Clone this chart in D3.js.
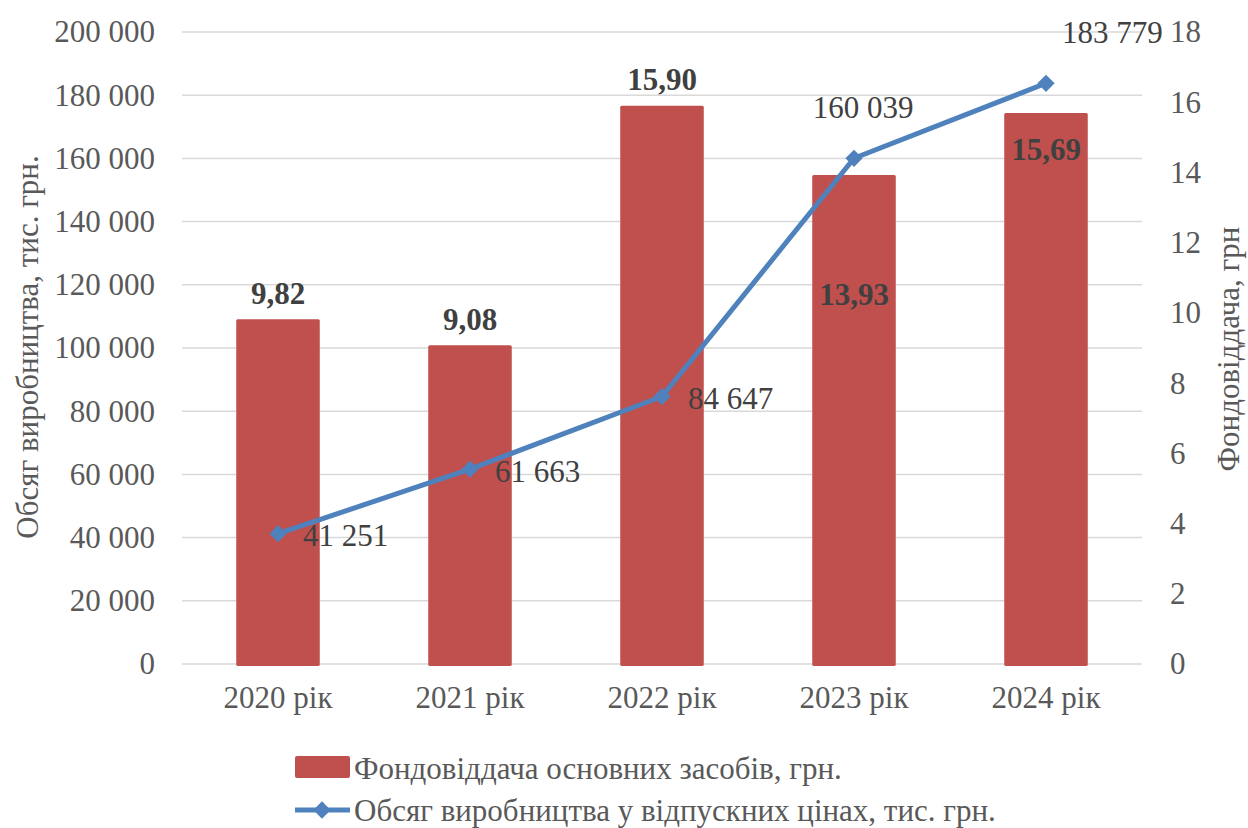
<!DOCTYPE html>
<html><head><meta charset="utf-8">
<script src="https://cdn.jsdelivr.net/npm/d3@7"></script>
<style>body{margin:0;background:#fff}svg{display:block}svg text{font-family:"Liberation Serif","Times New Roman",serif !important}</style>
</head><body>
<svg id="c" width="1248" height="828"></svg>
<script>
const categories = ["2020 рік","2021 рік","2022 рік","2023 рік","2024 рік"];
const fondovid = [9.82, 9.08, 15.90, 13.93, 15.69];
const fondovidLabels = ["9,82","9,08","15,90","13,93","15,69"];
const obsyag = [41251, 61663, 84647, 160039, 183779];
const obsyagLabels = ["41 251","61 663","84 647","160 039","183 779"];
const leftTicks = [0,20000,40000,60000,80000,100000,120000,140000,160000,180000,200000];
const rightTicks = [0,2,4,6,8,10,12,14,16,18];
const seriesNames = ["Фондовіддача основних засобів, грн.","Обсяг виробництва у відпускних цінах, тис. грн."];
const axisTitles = ["Обсяг виробництва, тис. грн.","Фондовіддача, грн"];

const svg = d3.select("#c");
const F = "'Liberation Serif','Times New Roman',serif";
const FS = 31;
const txt = "#595959";
const x0 = 182, x1 = 1142, yTop = 32, yBot = 664;
const x = d3.scaleBand().domain(categories).range([x0,x1]).paddingInner(0.565).paddingOuter(0.2825);
const yL = d3.scaleLinear().domain([0,200000]).range([yBot,yTop]);
const yR = d3.scaleLinear().domain([0,18]).range([yBot,yTop]);
const fmt = d => d3.format(",")(d).replace(/,/g," ");

// gridlines
svg.append("g").selectAll("line").data(leftTicks).join("line")
  .attr("x1",x0).attr("x2",x1).attr("y1",d=>yL(d)).attr("y2",d=>yL(d))
  .attr("stroke","#d9d9d9").attr("stroke-width",1.5);

// left axis
const la = svg.append("g").attr("transform",`translate(${x0},0)`)
  .call(d3.axisLeft(yL).tickValues(leftTicks).tickFormat(fmt).tickSize(0).tickPadding(27));
la.select(".domain").remove();
la.selectAll("text").attr("font-family",F).attr("font-size",FS).attr("fill",txt);

// right axis
const ra = svg.append("g").attr("transform",`translate(${x1},0)`)
  .call(d3.axisRight(yR).tickValues(rightTicks).tickSize(0).tickPadding(28));
ra.select(".domain").remove();
ra.selectAll("text").attr("font-family",F).attr("font-size",FS).attr("fill",txt);

// x axis
const xa = svg.append("g").attr("transform",`translate(0,${yBot})`)
  .call(d3.axisBottom(x).tickSize(0).tickPadding(22));
xa.select(".domain").remove();
xa.selectAll("text").attr("font-family",F).attr("font-size",FS).attr("fill",txt);

// bars
svg.append("g").selectAll("rect").data(fondovid).join("rect")
  .attr("x",(d,i)=>x(categories[i])).attr("width",x.bandwidth())
  .attr("y",d=>yR(d)).attr("height",d=>yBot+2-yR(d)).attr("rx",1.5)
  .attr("fill","#C0504D");

// bar labels
const barLabelDy = [-15,-15,-16,130,47];
svg.append("g").selectAll("text").data(fondovid).join("text")
  .attr("x",(d,i)=>x(categories[i])+x.bandwidth()/2)
  .attr("y",(d,i)=>yR(d)+barLabelDy[i])
  .attr("text-anchor","middle").attr("font-family",F).attr("font-size",FS)
  .attr("font-weight","bold").attr("fill","#404040")
  .text((d,i)=>fondovidLabels[i]);

// line
const cx = i => x(categories[i])+x.bandwidth()/2;
const line = d3.line().x((d,i)=>cx(i)).y(d=>yL(d));
svg.append("path").datum(obsyag).attr("d",line).attr("fill","none")
  .attr("stroke","#4F81BD").attr("stroke-width",5).attr("stroke-linejoin","round");
const diamond = d3.symbol().type(d3.symbolDiamond2).size(190);
svg.append("g").selectAll("path").data(obsyag).join("path")
  .attr("d",diamond).attr("transform",(d,i)=>`translate(${cx(i)},${yL(d)})`)
  .attr("fill","#4F81BD");

// line labels
const lineLabelOff = [[25,12,"start"],[25,13,"start"],[26,12,"start"],[9,-40,"middle"],[16,-40,"start"]];
svg.append("g").selectAll("text").data(obsyag).join("text")
  .attr("x",(d,i)=>cx(i)+lineLabelOff[i][0]).attr("y",(d,i)=>yL(d)+lineLabelOff[i][1])
  .attr("text-anchor",(d,i)=>lineLabelOff[i][2])
  .attr("font-family",F).attr("font-size",FS).attr("fill","#404040")
  .text((d,i)=>obsyagLabels[i]);

// axis titles
svg.append("text").attr("transform","translate(38,347) rotate(-90)")
  .attr("text-anchor","middle").attr("font-family",F).attr("font-size",FS).attr("fill",txt)
  .text(axisTitles[0]);
svg.append("text").attr("transform","translate(1239,349) rotate(-90)")
  .attr("text-anchor","middle").attr("font-family",F).attr("font-size",FS).attr("fill",txt)
  .text(axisTitles[1]);

// legend
const lg = svg.append("g");
lg.append("rect").attr("x",295).attr("y",756).attr("width",55).attr("height",22).attr("rx",2).attr("fill","#C0504D");
lg.append("text").attr("x",354).attr("y",779).attr("font-family",F).attr("font-size",FS).attr("fill",txt).text(seriesNames[0]);
lg.append("line").attr("x1",295).attr("x2",350).attr("y1",810).attr("y2",810).attr("stroke","#4F81BD").attr("stroke-width",5);
lg.append("path").attr("d",diamond).attr("transform","translate(322,810)").attr("fill","#4F81BD");
lg.append("text").attr("x",354).attr("y",821).attr("font-family",F).attr("font-size",FS).attr("fill",txt).text(seriesNames[1]);
</script>
</body></html>
